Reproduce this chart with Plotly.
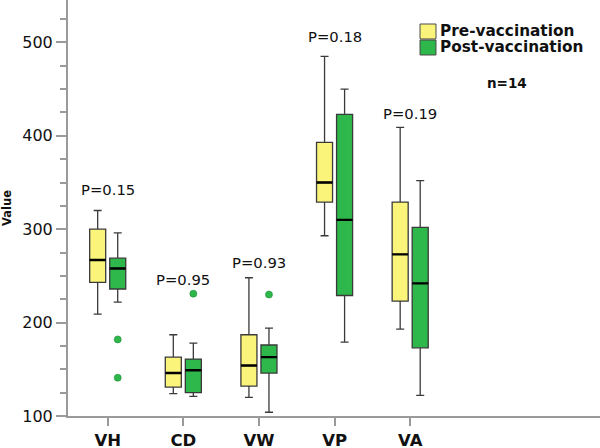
import plotly.graph_objects as go

categories = ["VH", "CD", "VW", "VP", "VA"]

pre_lower = [209, 124, 120, 293, 193]
pre_q1 = [243, 131, 132, 329, 223]
pre_median = [267, 146, 154, 350, 273]
pre_q3 = [300, 163, 187, 393, 329]
pre_upper = [320, 187, 248, 485, 409]
pre_points = None

post_lower = [222, 121, 104, 179, 122]
post_q1 = [236, 125, 146, 229, 173]
post_median = [258, 149, 163, 310, 242]
post_q3 = [269, 161, 176, 423, 302]
post_upper = [296, 178, 194, 450, 352]
post_points = [[182, 141], [231], [230], [], []]

p_labels = ["P=0.15", "P=0.95", "P=0.93", "P=0.18", "P=0.19"]
p_label_y = [343, 246, 264, 506, 424]

series_names = ["Pre-vaccination", "Post-vaccination"]

YELLOW = "#FAF47A"
GREEN = "#2EB74A"
FONT = "DejaVu Sans"

fig = go.Figure()

def add_box(name, color, lower, q1, med, q3, upper, pts, group):
    kw = {}
    if pts is not None:
        kw["y"] = pts
        kw["boxpoints"] = "outliers"
    else:
        kw["boxpoints"] = False
    fig.add_trace(go.Box(
        name=name, x=categories,
        lowerfence=lower, q1=q1, median=med, q3=q3, upperfence=upper,
        fillcolor=color, line=dict(color="#3a3a3a", width=1.3),
        whiskerwidth=0.5,
        marker=dict(color=color, size=7, line=dict(width=0.6, color="#1f8a35")),
        offsetgroup=group, alignmentgroup="a", showlegend=False,
        hoverinfo="skip", **kw
    ))

def add_median(med, group):
    fig.add_trace(go.Box(
        x=categories, lowerfence=med, q1=med, median=med, q3=med, upperfence=med,
        fillcolor="rgba(0,0,0,0)", line=dict(color="#000000", width=2.4),
        whiskerwidth=0, boxpoints=False,
        offsetgroup=group, alignmentgroup="a", showlegend=False, hoverinfo="skip",
    ))

add_box(series_names[0], YELLOW, pre_lower, pre_q1, pre_median, pre_q3, pre_upper, pre_points, "pre")
add_box(series_names[1], GREEN, post_lower, post_q1, post_median, post_q3, post_upper, post_points, "post")
add_median(pre_median, "pre")
add_median(post_median, "post")

for c, t, yv in zip(categories, p_labels, p_label_y):
    fig.add_annotation(x=c, y=yv, text=t, showarrow=False, xref="x", yref="y",
                       xanchor="center", yanchor="middle",
                       font=dict(family=FONT, size=14.8, color="#111"))

# custom legend (paper coordinates)
legend_colors = [YELLOW, GREEN]
legend_rows = [(0.9063, 0.9423, 0.9255), (0.8678, 0.9038, 0.887)]
for name, col, (y0, y1, yt) in zip(series_names, legend_colors, legend_rows):
    fig.add_shape(type="rect", xref="paper", yref="paper", x0=0.6617, x1=0.6917, y0=y0, y1=y1,
                  fillcolor=col, line=dict(color="#4a4a4a", width=1))
    fig.add_annotation(x=0.6955, y=yt, xref="paper", yref="paper", text="<b>%s</b>" % name,
                       showarrow=False, xanchor="left", yanchor="middle",
                       font=dict(family=FONT, size=15.3, color="#111"))

fig.add_annotation(x=0.825, y=0.8005, xref="paper", yref="paper", text="<b>n=14</b>",
                   showarrow=False, xanchor="center", yanchor="middle",
                   font=dict(family=FONT, size=13.5, color="#111"))

fig.update_layout(
    width=600, height=448,
    margin=dict(l=68, r=0, t=0, b=32, autoexpand=False),
    paper_bgcolor="white", plot_bgcolor="white",
    boxmode="group", boxgap=0.47, boxgroupgap=0.2,
    font=dict(family=FONT, color="#111"),
    showlegend=False,
)
fig.update_xaxes(
    type="category", range=[-0.525, 6.51], automargin=False,
    showline=True, linecolor="#9a9a9a", linewidth=2,
    ticks="outside", ticklen=8, tickcolor="#9a9a9a", tickwidth=2,
    tickfont=dict(family=FONT, size=16.5, color="#111", weight="bold"),
    showgrid=False, zeroline=False,
)
fig.update_yaxes(
    range=[100, 545.4], tickvals=[100, 200, 300, 400, 500], automargin=False,
    showline=True, linecolor="#9a9a9a", linewidth=2,
    ticks="outside", ticklen=10, tickcolor="#9a9a9a", tickwidth=2,
    minor=dict(dtick=25, tick0=0, ticks="outside", ticklen=6, tickcolor="#9a9a9a", tickwidth=1.5),
    tickfont=dict(family=FONT, size=16, color="#111"),
    title=dict(text="<b>Value</b>", font=dict(family=FONT, size=11.5, color="#111"), standoff=16),
    showgrid=False, zeroline=False,
)

fig.write_html("out.html", config={"displayModeBar": False},
               post_script="document.body.style.margin='0';")
